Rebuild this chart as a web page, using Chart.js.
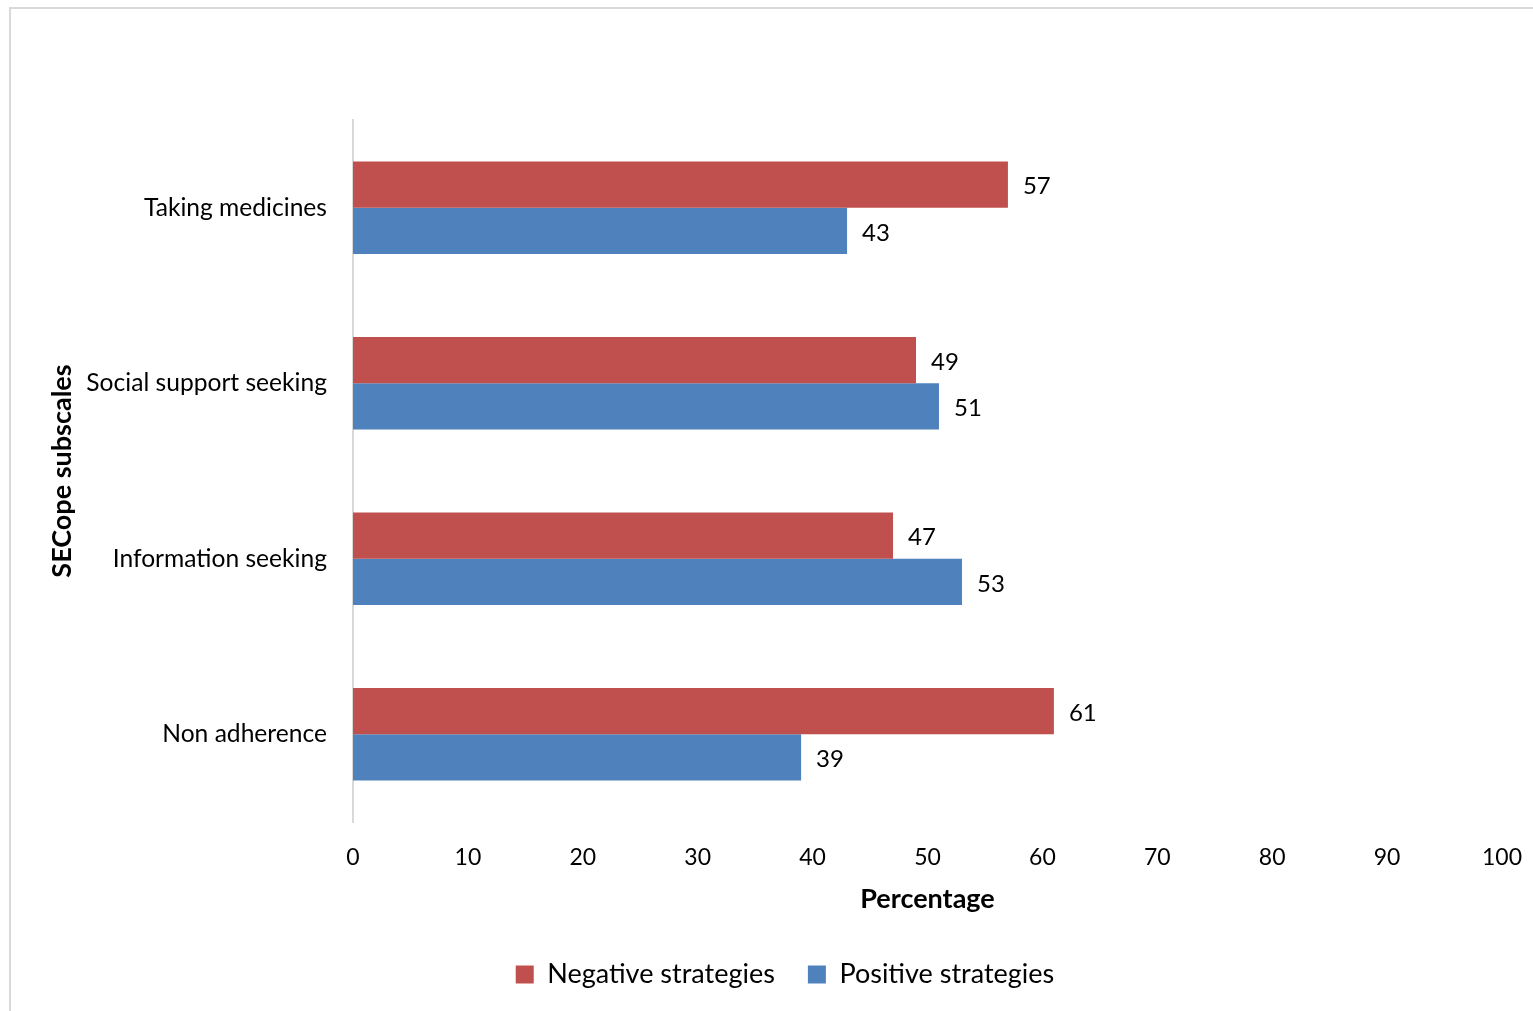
<!DOCTYPE html>
<html>
<head>
<meta charset="utf-8">
<script src="https://cdn.jsdelivr.net/npm/chart.js@4.4.1/dist/chart.umd.min.js"></script>
<style>
  html, body { margin: 0; padding: 0; background: #fff; overflow: hidden; }
  #frame { position: absolute; left: 9px; top: 7px; width: 1600px; height: 1100px;
           border: 2px solid #d9d9d9; box-sizing: border-box; }
  #chart { position: absolute; left: 0; top: 0; }
</style>
</head>
<body>
<div id="frame"></div>
<canvas id="chart" width="1533" height="1011"></canvas>
<script>
const subscales = ['Taking medicines', 'Social support seeking', 'Information seeking', 'Non adherence'];
const negative = [57, 49, 47, 61];
const positive = [43, 51, 53, 39];
const xTicks = [0, 10, 20, 30, 40, 50, 60, 70, 80, 90, 100];

const FONT = "Lato, 'Open Sans', sans-serif";
Chart.defaults.font.family = FONT;
Chart.defaults.color = '#000';

// value labels drawn just past the end of each bar
const barLabels = {
  id: 'barLabels',
  afterDatasetsDraw(chart) {
    const ctx = chart.ctx;
    ctx.save();
    ctx.font = '24px ' + FONT;
    ctx.fillStyle = '#000';
    ctx.textAlign = 'left';
    ctx.textBaseline = 'middle';
    chart.data.datasets.forEach((ds, i) => {
      chart.getDatasetMeta(i).data.forEach((bar, j) => {
        ctx.fillText(ds.data[j], bar.x + 15, bar.y + 2);
      });
    });
    ctx.restore();
  }
};

new Chart(document.getElementById('chart'), {
  type: 'bar',
  data: {
    labels: subscales,
    datasets: [
      { label: 'Negative strategies', data: negative, backgroundColor: '#C0504D' },
      { label: 'Positive strategies', data: positive, backgroundColor: '#4F81BD' }
    ]
  },
  options: {
    indexAxis: 'y',
    responsive: false,
    animation: false,
    devicePixelRatio: 1,
    categoryPercentage: 0.526,
    barPercentage: 1,
    layout: { padding: { left: 40, right: 3, top: 120, bottom: 13 } },
    plugins: {
      legend: {
        position: 'bottom',
        labels: { boxWidth: 18, boxHeight: 18, padding: 33, font: { size: 27 } }
      },
      tooltip: { enabled: false }
    },
    scales: {
      x: {
        min: 0, max: 100,
        afterBuildTicks: s => { s.ticks = xTicks.map(v => ({ value: v })); },
        afterFit: s => { s.height = 106; s.paddingLeft = 0; s.paddingRight = 0; },
        grid: { display: false, drawTicks: false },
        border: { display: false },
        ticks: { padding: 22, font: { size: 23 }, maxRotation: 0 },
        title: { display: true, text: 'Percentage', font: { size: 27, weight: 'bold' }, padding: { top: 0, bottom: 13 } }
      },
      y: {
        afterFit: s => { s.width = 313; },
        grid: { display: false, drawTicks: false },
        border: { display: true, color: '#d9d9d9', width: 2 },
        ticks: { padding: 26, font: { size: 24.6 } },
        title: { display: true, text: 'SECope subscales', font: { size: 27, weight: 'bold' }, padding: { top: 6, bottom: 0 } }
      },
      // empty right-hand axis that reserves the gap after the 100 tick
      pad: {
        position: 'right',
        axis: 'y',
        type: 'linear',
        afterFit: s => { s.width = 28; },
        grid: { display: false, drawTicks: false },
        border: { display: false },
        ticks: { display: false }
      }
    }
  },
  plugins: [barLabels]
});
</script>
</body>
</html>
